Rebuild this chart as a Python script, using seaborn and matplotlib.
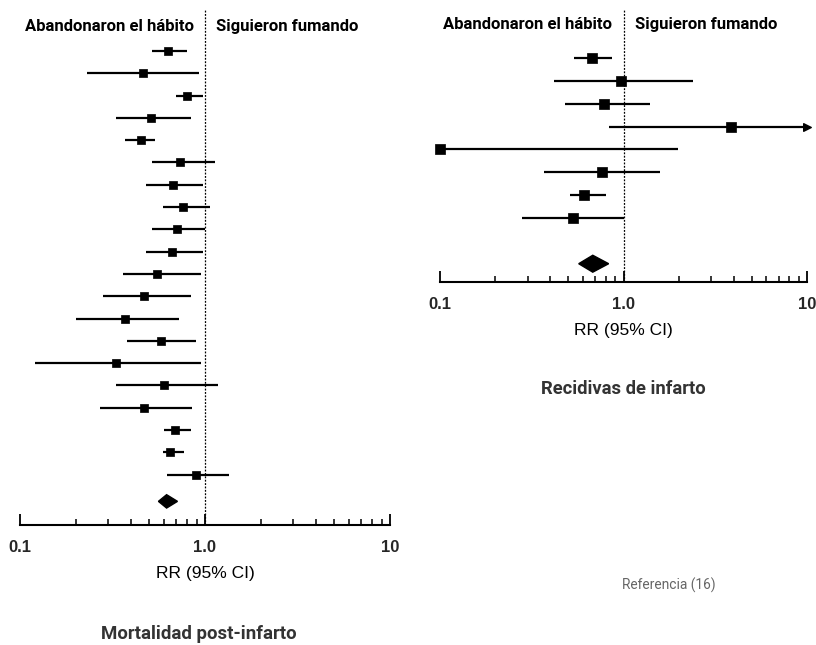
import numpy as np
import pandas as pd
import matplotlib
matplotlib.use('Agg')
import matplotlib.pyplot as plt
import seaborn as sns
from matplotlib.ticker import LogLocator, NullFormatter

sns.set_theme(style='white')
plt.rcParams['font.family'] = ['Roboto', 'DejaVu Sans']

# Mortalidad post-infarto: RR e IC 95% por estudio
mort_rr = [0.63, 0.46, 0.80, 0.51, 0.45, 0.73, 0.67, 0.76, 0.71, 0.66,
           0.55, 0.47, 0.37, 0.58, 0.33, 0.60, 0.47, 0.69, 0.65, 0.89]
mort_lo = [0.52, 0.23, 0.70, 0.33, 0.37, 0.52, 0.48, 0.59, 0.52, 0.48,
           0.36, 0.28, 0.20, 0.38, 0.12, 0.33, 0.27, 0.60, 0.59, 0.62]
mort_hi = [0.80, 0.93, 0.97, 0.84, 0.54, 1.13, 0.97, 1.06, 1.00, 0.97,
           0.95, 0.84, 0.72, 0.89, 0.95, 1.18, 0.85, 0.84, 0.77, 1.35]
mort_pool = [0.56, 0.62, 0.71]

# Recidivas de infarto
rec_rr = [0.67, 0.97, 0.78, 3.83, 0.10, 0.76, 0.61, 0.53]
rec_lo = [0.54, 0.42, 0.48, 0.83, 0.06, 0.37, 0.51, 0.28]
rec_hi = [0.87, 2.40, 1.40, 14.0, 1.97, 1.59, 0.80, 1.00]
rec_pool = [0.57, 0.68, 0.83]

tick_vals = [0.1, 1, 10]
tick_labels = ['0.1', '1.0', '10']


def forest(ax, rr, lo, hi, pool, pool_gap, ylim, dia_h, msize, head_y):
    n = len(rr)
    df = pd.DataFrame({'rr': rr, 'lo': lo, 'hi': hi, 'y': np.arange(n)})
    ax.set_xscale('log')
    ax.set_xlim(0.1, 10)
    ax.set_ylim(*ylim)
    x0, x1 = ax.get_xlim()

    ax.axvline(1, color='black', lw=0.9, ls=(0, (1.5, 1.2)), zorder=1)
    ax.hlines(df['y'], df['lo'].clip(lower=x0), df['hi'].clip(upper=x1),
              color='black', lw=1.6, zorder=2)
    over = df[df['hi'] > x1]
    ax.scatter([x1] * len(over), over['y'], marker='>', s=30, color='black',
               clip_on=False, zorder=3)
    sns.scatterplot(data=df, x='rr', y='y', marker='s', s=msize, color='black',
                    edgecolor='black', linewidth=0.5, ax=ax, zorder=4, clip_on=False,
                    legend=False)

    py = n - 1 + pool_gap
    ax.fill([pool[0], pool[1], pool[2], pool[1]],
            [py, py - dia_h, py, py + dia_h], color='black', zorder=4)

    ax.annotate('Abandonaron el hábito', xy=(1, head_y), xytext=(-8, 0),
                textcoords='offset points', ha='right', va='center',
                fontsize=12, fontweight='bold', color='black')
    ax.annotate('Siguieron fumando', xy=(1, head_y), xytext=(8, 0),
                textcoords='offset points', ha='left', va='center',
                fontsize=12, fontweight='bold', color='black')

    ax.set_xticks(tick_vals)
    ax.set_xticklabels(tick_labels, fontsize=12, fontweight='bold',
                       family='Liberation Sans')
    ax.xaxis.set_minor_locator(LogLocator(subs=np.arange(2, 10)))
    ax.xaxis.set_minor_formatter(NullFormatter())
    ax.tick_params(axis='x', which='major', direction='in', length=8, width=1.3,
                   color='black', pad=11, bottom=True)
    ax.tick_params(axis='x', which='minor', direction='in', length=4, width=1.1,
                   color='black', bottom=True)
    ax.set_yticks([])
    ax.set_ylabel('')
    ax.set_xlabel('RR (95% CI)', fontsize=12.5, labelpad=8, family='Liberation Sans',
                  color='black')
    sns.despine(ax=ax, left=True)
    ax.spines['bottom'].set_color('black')
    ax.spines['bottom'].set_linewidth(1.5)
    ax.grid(False)


fig = plt.figure(figsize=(8.16, 6.45), dpi=100)
ax1 = fig.add_axes([20 / 816, 1 - 525 / 645, 370 / 816, 515 / 645])
ax2 = fig.add_axes([440 / 816, 1 - 282 / 645, 367 / 816, 272 / 645])
ax1.patch.set_alpha(0)
ax2.patch.set_alpha(0)

forest(ax1, mort_rr, mort_lo, mort_hi, mort_pool, 1.2, (21.26, -1.84), 0.3, 34, -1.12)
forest(ax2, rec_rr, rec_lo, rec_hi, rec_pool, 2.0, (9.8, -2.1), 0.37, 44, -1.45)

fig.text(199 / 816, 1 - 634 / 645, 'Mortalidad post-infarto', ha='center', va='center',
         fontsize=13.4, fontweight='bold', color='#333333')
fig.text(623 / 816, 1 - 389 / 645, 'Recidivas de infarto', ha='center', va='center',
         fontsize=13.2, fontweight='bold', color='#333333')
fig.text(622 / 816, 1 - 585 / 645, 'Referencia (16)', ha='left', va='center',
         fontsize=9.9, color='#666666')

fig.savefig('out.png', dpi=100)
